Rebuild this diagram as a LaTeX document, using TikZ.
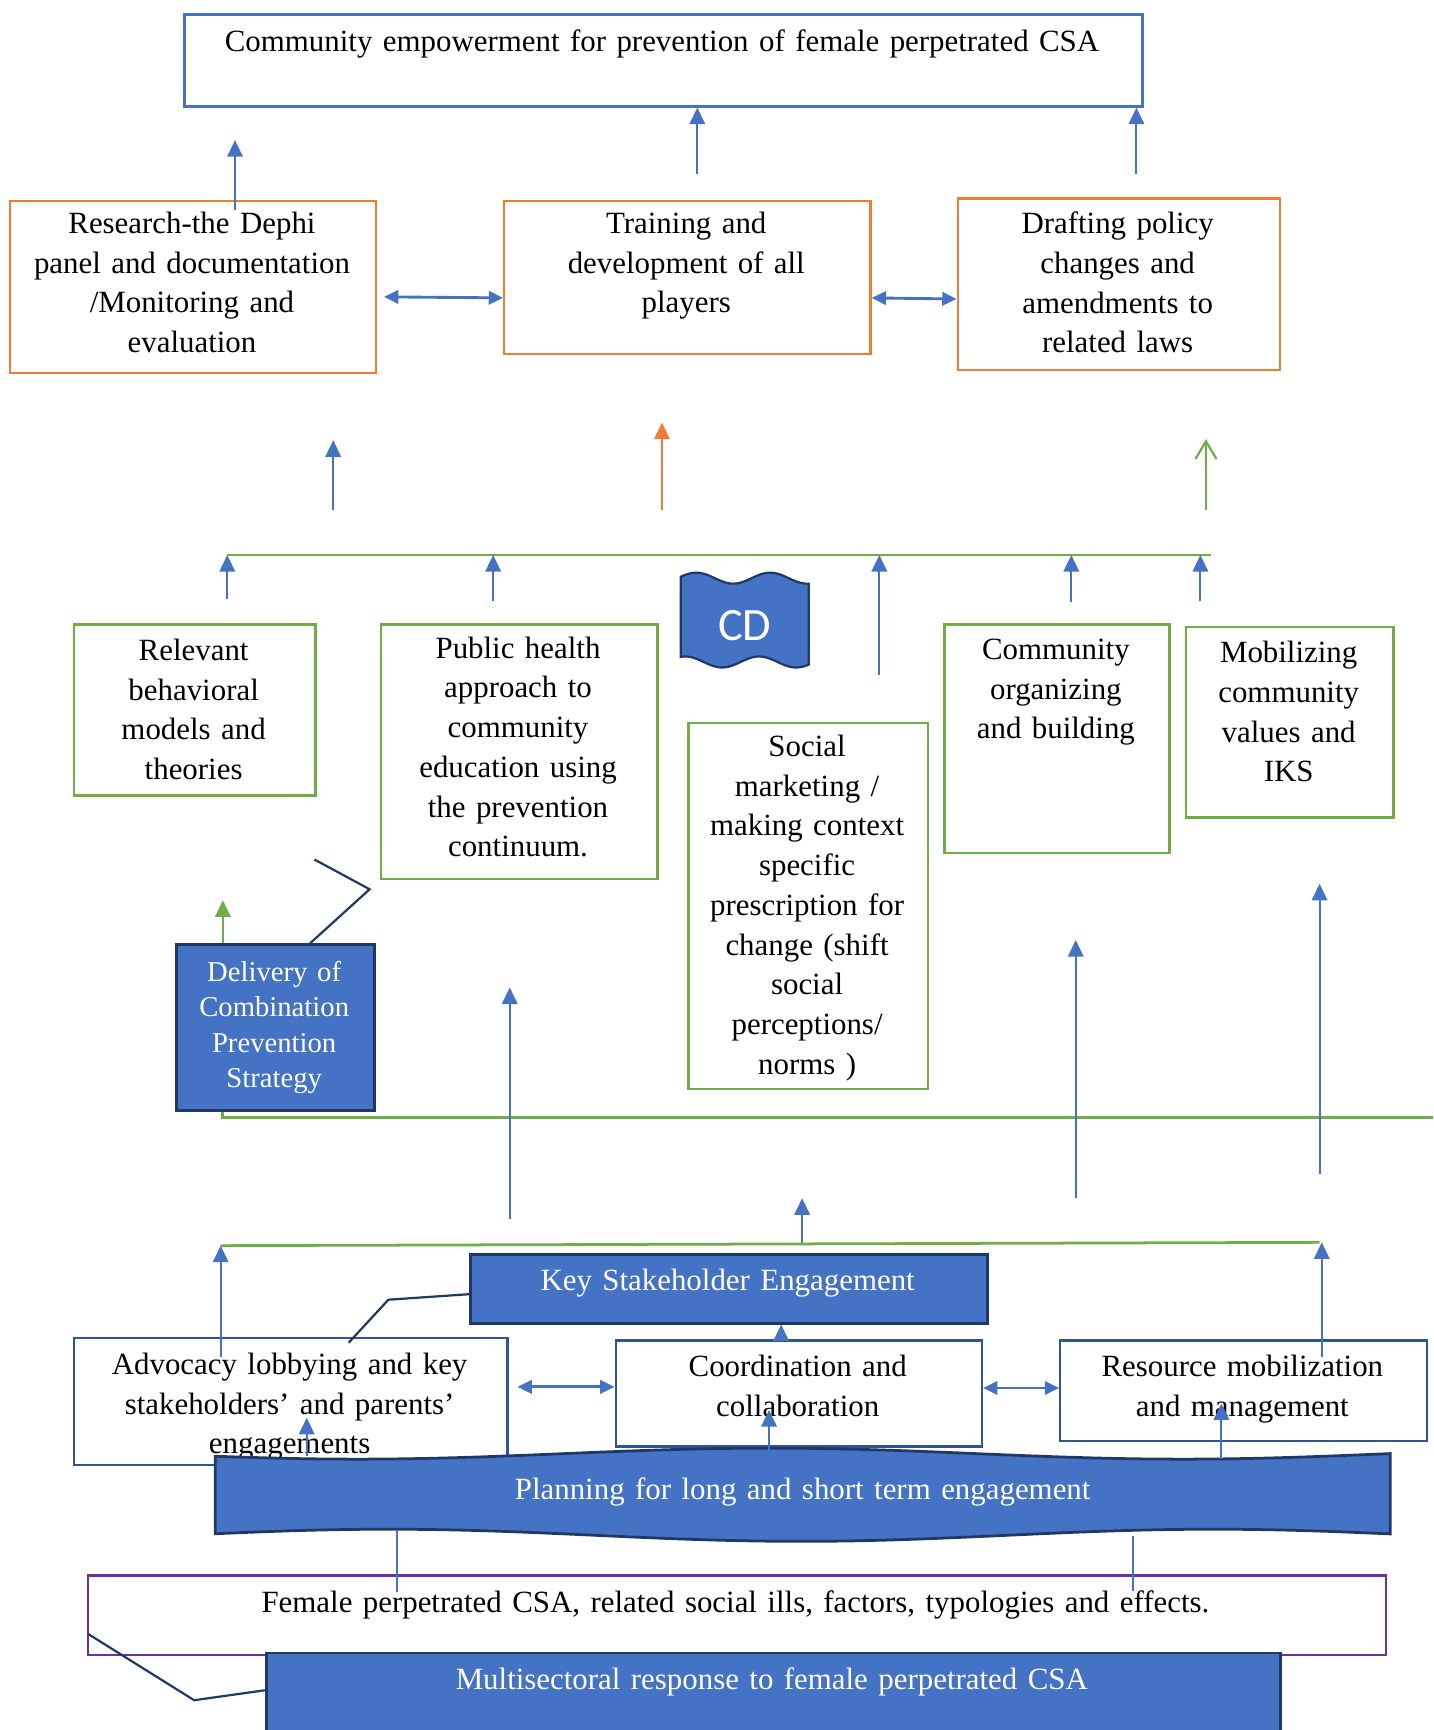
\documentclass[tikz,border=0pt]{standalone}
\usepackage{fontspec}
\setmainfont[WordSpace=1.35]{Liberation Serif}
\newfontfamily\cdfont{Carlito}
\usetikzlibrary{arrows.meta}
\definecolor{csacolor0001}{RGB}{68,114,196}
\definecolor{csacolor0002}{RGB}{237,125,49}
\definecolor{csacolor0003}{RGB}{112,173,71}
\definecolor{csacolor0004}{RGB}{32,56,100}
\definecolor{csacolor0005}{RGB}{47,85,151}
\definecolor{csacolor0006}{RGB}{112,48,160}

\begin{document}
\begin{tikzpicture}[yscale=-1
,cstyle0/.style={rectangle,inner sep=0,anchor=north west,fill=white}
,cstyle1/.style={cstyle0,draw=csacolor0002,line width=2pt}
,cstyle2/.style={cstyle0,draw=csacolor0003,line width=2pt}
,cstyle3/.style={cstyle0,fill=csacolor0001,draw=csacolor0004,line width=2.5pt}
,cstyle4/.style={cstyle0,draw=csacolor0005,line width=2pt}
,cstyle5/.style={align=center,inner sep=0,anchor=north,font=\fontsize{28pt}{36pt}\selectfont}
,cstyle6/.style={cstyle5,text=white}
,cstyle7/.style={draw=csacolor0001,line width=1.8pt,-{Triangle[length=15pt,width=14pt]}}
,cstyle8/.style={draw=csacolor0001,line width=2.6pt,{Triangle[length=13pt,width=12pt]}-{Triangle[length=13pt,width=12pt]}}
,cstyle9/.style={draw=csacolor0003,line width=2.5pt}
,cstyle10/.style={draw=csacolor0004,line width=2pt}
,cstyle11/.style={draw=csacolor0003,line width=1.8pt,-{Triangle[length=15pt,width=14pt]}}
,cstyle12/.style={draw=csacolor0002,line width=1.8pt,-{Triangle[length=15pt,width=14pt]}}
,cstyle13/.style={draw=csacolor0003,line width=2pt,-{Straight Barb[length=16pt,width=19pt]}}
,cstyle14/.style={draw=csacolor0001,line width=1.8pt}
]
\useasboundingbox (0pt,0pt) rectangle (1299pt,1568pt);
\node[cstyle0,draw=csacolor0001,line width=2.5pt,minimum width=868pt,minimum height=83pt] (empower) at (166pt,12pt) {};
\node[cstyle5] (empowertext) at (600pt,27pt) {Community empowerment for prevention of female perpetrated CSA};
\node[cstyle1,minimum width=332pt,minimum height=156pt] (research) at (8pt,181pt) {};
\node[cstyle5] (researchtext) at (174pt,192pt) {Research-the Dephi\\panel and documentation\\/Monitoring and\\evaluation};
\node[cstyle1,minimum width=332pt,minimum height=139pt] (training) at (456pt,181pt) {};
\node[cstyle5] (trainingtext) at (622pt,192pt) {Training and\\development of all\\players};
\node[cstyle1,minimum width=292pt,minimum height=155pt] (drafting) at (867pt,179pt) {};
\node[cstyle5] (draftingtext) at (1013pt,192pt) {Drafting policy\\changes and\\amendments to\\related laws};
\coordinate (r1a) at (213pt,190pt);
\coordinate (r1b) at (213pt,127pt);
\coordinate (r2a) at (632pt,158pt);
\coordinate (r3a) at (1030pt,158pt);
\draw[cstyle7] (r1a) -- (r1b);
\draw[cstyle7] (r2a) -- (r2a |- empower.south);
\draw[cstyle7] (r3a) -- (r3a |- empower.south);
\draw[cstyle8,shorten <=6pt] (research.east |- 0pt,269pt) -- (training.west |- 0pt,270pt);
\draw[cstyle8] (training.east |- 0pt,270pt) -- (drafting.west |- 0pt,271pt);
\coordinate (m1a) at (302pt,462pt);
\coordinate (m1b) at (302pt,399pt);
\coordinate (m2a) at (600pt,462pt);
\coordinate (m2b) at (600pt,383pt);
\coordinate (m3a) at (1093pt,462pt);
\coordinate (m3b) at (1093pt,398pt);
\draw[cstyle7] (m1a) -- (m1b);
\draw[cstyle12] (m2a) -- (m2b);
\draw[cstyle13] (m3a) -- (m3b);
\coordinate (g1a) at (206pt,503pt);
\coordinate (g1b) at (1098pt,503pt);
\draw[cstyle9] (g1a) -- (g1b);
\coordinate (u1) at (206pt,543pt);
\coordinate (u2) at (447pt,545pt);
\coordinate (u3) at (797pt,612pt);
\coordinate (u4) at (971pt,546pt);
\coordinate (u5) at (1088pt,545pt);
\foreach \u in {u1,u2,u3,u4,u5}
  \draw[cstyle7] (\u) -- (\u |- g1a);
\draw[fill=csacolor0001,draw=csacolor0004,line width=2pt] plot[domain=617:733,samples=40] ({\x*1pt},{(524-5*cos((\x-631)/67*360))*1pt}) -- plot[domain=733:617,samples=40] ({\x*1pt},{(600-5*cos((\x-621)/67*360))*1pt}) -- cycle;
\node[inner sep=0,text=white,font=\cdfont\fontsize{42pt}{50pt}\selectfont] (cd) at (675pt,567pt) {CD};
\node[cstyle2,minimum width=219pt,minimum height=155pt] (relevant) at (66pt,565pt) {};
\node[cstyle5] (relevanttext) at (175.5pt,579pt) {Relevant\\behavioral\\models and\\theories};
\node[cstyle2,minimum width=251pt,minimum height=231pt] (publichealth) at (344pt,565pt) {};
\node[cstyle5] (publichealthtext) at (469.5pt,577pt) {Public health\\approach to\\community\\education using\\the prevention\\continuum.};
\node[cstyle2,minimum width=217pt,minimum height=332pt] (social) at (623pt,654pt) {};
\node[cstyle5] (socialtext) at (731.5pt,666pt) {Social\\marketing /\\making context\\specific\\prescription for\\change (shift\\social\\perceptions/\\norms )};
\node[cstyle2,minimum width=204pt,minimum height=207pt] (organizing) at (855pt,565pt) {};
\node[cstyle5] (organizingtext) at (957pt,579pt) {Community\\organizing\\and building};
\node[cstyle2,minimum width=188pt,minimum height=173pt] (mobilizing) at (1074pt,567pt) {};
\node[cstyle5] (mobilizingtext) at (1168pt,581pt) {Mobilizing\\community\\values and\\IKS};
\node[cstyle3,minimum width=179pt,minimum height=150pt] (delivery) at (159pt,855pt) {};
\node[cstyle6,font=\fontsize{26pt}{32pt}\selectfont] (deliverytext) at (248.5pt,871pt) {Delivery of\\Combination\\Prevention\\Strategy};
\coordinate (dc1) at (335pt,806pt);
\coordinate (dc2) at (285pt,779pt);
\draw[cstyle10] (delivery.north -| 281pt,0pt) -- (dc1) -- (dc2);
\coordinate (ga) at (202pt,816pt);
\coordinate (g2b) at (1299pt,1013pt);
\draw[cstyle11] (delivery.north -| ga) -- (ga);
\draw[cstyle9] (delivery.south -| ga) |- (g2b);
\coordinate (l1a) at (462pt,1105pt);
\coordinate (l1b) at (462pt,895pt);
\coordinate (l2a) at (975pt,1086pt);
\coordinate (l2b) at (975pt,852pt);
\coordinate (l3a) at (1196pt,1064pt);
\coordinate (l3b) at (1196pt,801pt);
\coordinate (l4a) at (727pt,1128pt);
\coordinate (l4b) at (727pt,1086pt);
\draw[cstyle7] (l1a) -- (l1b);
\draw[cstyle7] (l2a) -- (l2b);
\draw[cstyle7] (l3a) -- (l3b);
\draw[cstyle7] (l4a) -- (l4b);
\coordinate (g3a) at (200pt,1129pt);
\coordinate (g3b) at (1196pt,1126pt);
\draw[cstyle9] (g3a) -- (g3b);
\node[cstyle3,minimum width=469pt,minimum height=62pt] (key) at (425pt,1136pt) {};
\node[cstyle6] (keytext) at (659.5pt,1150pt) {Key Stakeholder Engagement};
\node[cstyle4,minimum width=393pt,minimum height=115pt] (advocacy) at (66pt,1212pt) {};
\node[cstyle5] (advocacytext) at (262.5pt,1226pt) {Advocacy lobbying and key\\stakeholders’ and parents’\\engagements};
\node[cstyle4,minimum width=332pt,minimum height=96pt] (coordination) at (557pt,1214pt) {};
\node[cstyle5] (coordinationtext) at (723pt,1228pt) {Coordination and\\collaboration};
\node[cstyle4,minimum width=332pt,minimum height=91pt] (resource) at (960pt,1214pt) {};
\node[cstyle5] (resourcetext) at (1126pt,1228pt) {Resource mobilization\\and management};
\coordinate (kc1) at (352pt,1178pt);
\coordinate (kc2) at (316pt,1217pt);
\draw[cstyle10] (key.west |- 0pt,1173pt) -- (kc1) -- (kc2);
\coordinate (a1) at (200pt,1230pt);
\coordinate (a2) at (1198pt,1230pt);
\draw[cstyle7] (a1) -- (g3a);
\draw[cstyle7] (a2) -- (a2 |- g3b);
\draw[cstyle8,shorten <=8pt] (advocacy.east |- 0pt,1257pt) -- (coordination.west |- 0pt,1257pt);
\draw[cstyle8] (coordination.east |- 0pt,1258pt) -- (resource.west |- 0pt,1258pt);
\draw[cstyle7] (coordination.north -| 708pt,0pt) -- (key.south -| 708pt,0pt);
\draw[fill=csacolor0001,draw=csacolor0004,line width=2.5pt] plot[domain=195:1260,samples=80] ({\x*1pt},{(1317.5+5*cos((\x-324)/748*360))*1pt}) -- plot[domain=1260:195,samples=80] ({\x*1pt},{(1391.5-5.5*cos((\x-352)/748*360))*1pt}) -- cycle;
\node[cstyle6] (planningtext) at (727.5pt,1339pt) {Planning for long and short term engagement};
\coordinate (w1a) at (278pt,1320pt);
\coordinate (w1b) at (278pt,1285pt);
\coordinate (w2a) at (697pt,1318pt);
\coordinate (w2b) at (697pt,1278pt);
\coordinate (w3a) at (1107pt,1322pt);
\coordinate (w3b) at (1107pt,1272pt);
\draw[cstyle7] (w1a) -- (w1b);
\draw[cstyle7] (w2a) -- (w2b);
\draw[cstyle7] (w3a) -- (w3b);
\node[cstyle0,draw=csacolor0006,line width=2pt,minimum width=1176pt,minimum height=72pt] (female) at (79pt,1427pt) {};
\node[cstyle5] (femaletext) at (666.5pt,1442pt) {Female perpetrated CSA, related social ills, factors, typologies and effects.};
\coordinate (b1a) at (360pt,1387pt);
\coordinate (b1b) at (360pt,1443pt);
\coordinate (b2a) at (1027pt,1392pt);
\coordinate (b2b) at (1027pt,1442pt);
\draw[cstyle14] (b1a) -- (b1b);
\draw[cstyle14] (b2a) -- (b2b);
\node[cstyle3,minimum width=919pt,minimum height=90pt] (multi) at (240pt,1497pt) {};
\node[cstyle6] (multitext) at (699.5pt,1511pt) {Multisectoral response to female perpetrated CSA};
\coordinate (mc1) at (176pt,1541pt);
\coordinate (mc2) at (80pt,1481pt);
\draw[cstyle10] (multi.west |- 0pt,1532pt) -- (mc1) -- (mc2);
\end{tikzpicture}
\end{document}
